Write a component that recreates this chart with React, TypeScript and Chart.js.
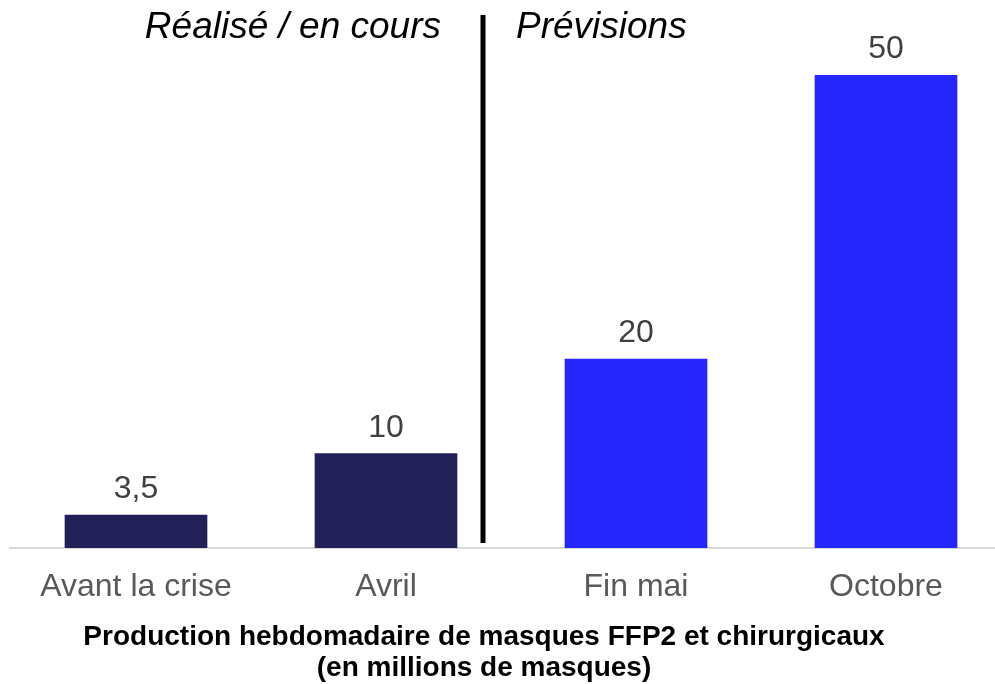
import React, { useEffect, useRef } from "react";
import { Chart, registerables } from "chart.js";

Chart.register(...registerables);

const categories: string[] = ["Avant la crise", "Avril", "Fin mai", "Octobre"];
const values: number[] = [3.5, 10, 20, 50];
const valueLabels: string[] = ["3,5", "10", "20", "50"];
const barColors: string[] = ["#212157", "#212157", "#2626FF", "#2626FF"];
const leftNote = "Réalisé / en cours";
const rightNote = "Prévisions";
const titleLines: string[] = [
  "Production hebdomadaire de masques FFP2 et chirurgicaux",
  "(en millions de masques)",
];
const dividerX = 1.388;

const FONT = "'Liberation Sans', Arial, sans-serif";

const labelsPlugin = {
  id: "valueLabels",
  afterDatasetsDraw(chart: any) {
    const ctx = chart.ctx;
    const meta = chart.getDatasetMeta(0);
    ctx.save();
    ctx.font = `32px ${FONT}`;
    ctx.fillStyle = "#404040";
    ctx.textAlign = "center";
    ctx.textBaseline = "alphabetic";
    meta.data.forEach((el: any, i: number) => {
      ctx.fillText(valueLabels[i], el.x, el.y - 17);
    });
    ctx.restore();
  },
};

const notesPlugin = {
  id: "notes",
  afterDraw(chart: any) {
    const ctx = chart.ctx;
    const xs = chart.scales.x;
    const ys = chart.scales.y;
    const lx = xs.getPixelForValue(dividerX);
    ctx.save();
    ctx.strokeStyle = "#000000";
    ctx.lineWidth = 5;
    ctx.beginPath();
    ctx.moveTo(lx, 15);
    ctx.lineTo(lx, ys.getPixelForValue(0) - 5);
    ctx.stroke();
    ctx.font = `italic 37px ${FONT}`;
    ctx.fillStyle = "#000000";
    ctx.textBaseline = "alphabetic";
    ctx.textAlign = "right";
    ctx.fillText(leftNote, lx - 42, 38);
    ctx.textAlign = "left";
    ctx.fillText(rightNote, lx + 33, 38);

    // bottom caption
    ctx.font = `bold 28px ${FONT}`;
    ctx.textAlign = "center";
    ctx.fillText(titleLines[0], 484, 645);
    ctx.fillText(titleLines[1], 484, 676);
    ctx.restore();
  },
};

export default function App() {
  const ref = useRef<HTMLCanvasElement | null>(null);
  useEffect(() => {
    if (!ref.current) return;
    const chart = new Chart(ref.current, {
      type: "bar",
      data: {
        datasets: [
          {
            data: values.map((v, i) => ({ x: i, y: v })) as any,
            backgroundColor: barColors,
            barThickness: 142,
          },
        ],
      },
      options: {
        animation: false,
        responsive: true,
        maintainAspectRatio: false,
        layout: { padding: { left: 10, right: 0, top: 28, bottom: 57.5 } },
        plugins: {
          legend: { display: false },
          tooltip: { enabled: false },
          title: { display: false },
        },
        scales: {
          x: {
            type: "linear",
            min: -0.504,
            max: 3.436,
            offset: false,
            grid: { display: false, drawTicks: false },
            border: { display: true, color: "#d9d9d9", width: 2 },
            afterBuildTicks: (axis: any) => {
              axis.ticks = categories.map((_, i) => ({ value: i }));
            },
            ticks: {
              autoSkip: false,
              maxRotation: 0,
              padding: 20,
              color: "#595959",
              font: { family: FONT, size: 32 },
              callback: (v: any) => categories[v as number] ?? "",
            },
          },
          y: {
            display: false,
            min: 0,
            max: 55,
          },
        },
      },
      plugins: [labelsPlugin, notesPlugin],
    });
    return () => chart.destroy();
  }, []);
  return (
    <div style={{ position: "absolute", left: 0, top: 0, width: 995, height: 684, background: "#fff" }}>
      <canvas ref={ref} />
    </div>
  );
}
